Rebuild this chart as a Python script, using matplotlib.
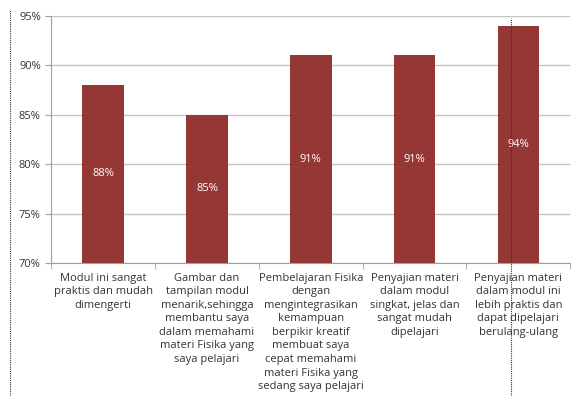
import numpy as np
import matplotlib.pyplot as plt
from matplotlib.ticker import FuncFormatter

plt.rcParams['font.family'] = ['Open Sans', 'DejaVu Sans']

labels = [
    "Modul ini sangat\npraktis dan mudah\ndimengerti",
    "Gambar dan\ntampilan modul\nmenarik,sehingga\nmembantu saya\ndalam memahami\nmateri Fisika yang\nsaya pelajari",
    "Pembelajaran Fisika\ndengan\nmengintegrasikan\nkemampuan\nberpikir kreatif\nmembuat saya\ncepat memahami\nmateri Fisika yang\nsedang saya pelajari",
    "Penyajian materi\ndalam modul\nsingkat, jelas dan\nsangat mudah\ndipelajari",
    "Penyajian materi\ndalam modul ini\nlebih praktis dan\ndapat dipelajari\nberulang-ulang",
]
values = [88, 85, 91, 91, 94]
bar_color = '#953735'

fig = plt.figure(figsize=(5.76, 3.96), dpi=100)
ax = fig.add_axes([0.089, 0.336, 0.901, 0.624])

x = np.arange(len(values))
bars = ax.bar(x, values, width=0.4, color=bar_color, zorder=3)
for xi, v in zip(x, values):
    ax.text(xi, (70 + v) / 2, f"{v}%", color='white', ha='center', va='center',
            fontsize=8, zorder=4)

ax.set_ylim(70, 95)
ax.set_xlim(-0.5, len(values) - 0.5)
ax.set_yticks(np.arange(70, 96, 5))
ax.yaxis.set_major_formatter(FuncFormatter(lambda v, p: f"{v:.0f}%"))
ax.grid(axis='y', color='#c4c4c4', linewidth=1, zorder=0)

ax.set_xticks(x)
ax.set_xticklabels(labels, fontsize=8, color='#333333', linespacing=1.32)
ax.set_xticks(np.arange(-0.5, len(values)), minor=True)
ax.tick_params(axis='x', which='major', length=0, pad=7)
ax.tick_params(axis='x', which='minor', length=4, color='#a0a0a0')
ax.tick_params(axis='y', length=4, color='#a0a0a0', labelsize=8, labelcolor='#333333')

for s in ['top', 'right']:
    ax.spines[s].set_visible(False)
ax.spines['left'].set_color('#a0a0a0')
ax.spines['bottom'].set_color('#a0a0a0')

# dotted frame lines seen in the screenshot
fig.add_artist(plt.Line2D([10 / 576, 10 / 576], [0, 0.975], transform=fig.transFigure,
                          color='#333333', linestyle=(0, (1, 1)), linewidth=0.8))
fig.add_artist(plt.Line2D([511 / 576, 511 / 576], [0, 0.955], transform=fig.transFigure,
                          color='#333333', linestyle=(0, (1, 1)), linewidth=0.8, zorder=10))

fig.savefig('out.png', dpi=100)
